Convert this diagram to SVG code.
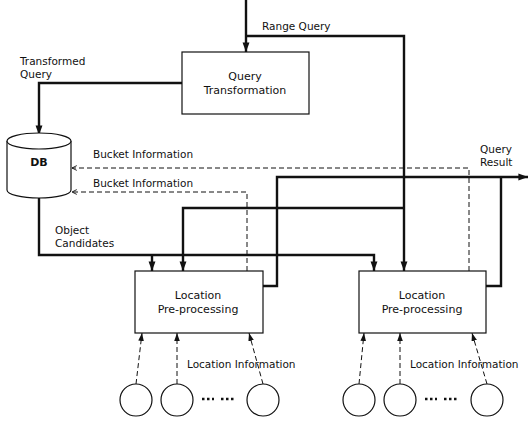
<svg xmlns="http://www.w3.org/2000/svg" width="528" height="421" viewBox="0 0 528 421">
<style>
text{font-family:"DejaVu Sans","Liberation Sans",sans-serif;font-size:10.5px;fill:#111}
.c{text-anchor:middle}
.b{font-size:11px}
.box{fill:#fff;stroke:#111;stroke-width:1.2}
.thick{fill:none;stroke:#111;stroke-width:2.4}
.dash{fill:none;stroke:#111;stroke-width:1;stroke-dasharray:5 3}
.dot{fill:none;stroke:#111;stroke-width:2.5;stroke-dasharray:2.5 2.5}
</style>
<defs>
<marker id="ah" viewBox="0 0 10 10" refX="10" refY="5" markerWidth="4" markerHeight="4" orient="auto" markerUnits="strokeWidth"><path d="M0,1.4 L10,5 L0,8.6 z" fill="#111"/></marker>
<marker id="ahs" viewBox="0 0 10 10" refX="10" refY="5" markerWidth="8" markerHeight="8" orient="auto" markerUnits="strokeWidth"><path d="M0,1.5 L10,5 L0,8.5 z" fill="#111"/></marker>
<marker id="ao" viewBox="0 0 10 10" refX="10" refY="5" markerWidth="6" markerHeight="6" orient="auto" markerUnits="strokeWidth"><path d="M2,1 L10,5 L2,9" fill="none" stroke="#111" stroke-width="1.5"/></marker>
</defs>
<g id="connectors">
<path class="thick" d="M246,0 V52" marker-end="url(#ah)"/>
<path class="thick" d="M246,36 H404 V271" marker-end="url(#ah)"/>
<path class="thick" d="M182,83 H39 V135" marker-end="url(#ah)"/>
<path class="thick" d="M39,198 V255 H374 V271" marker-end="url(#ah)"/>
<path class="thick" d="M152,255 V271" marker-end="url(#ah)"/>
<path class="thick" d="M404,208 H183 V271" marker-end="url(#ah)"/>
<path class="thick" d="M263,286 H277 V177 H528" marker-end="url(#ah)"/>
<path class="thick" d="M486,286 H501 V177"/>
<path class="dash" d="M469,271 V168 H72" marker-end="url(#ao)"/>
<path class="dash" d="M247,271 V192 H72" marker-end="url(#ao)"/>
<path class="dash" d="M136,384 L142,333" marker-end="url(#ahs)"/>
<path class="dash" d="M177,384 L177,333" marker-end="url(#ahs)"/>
<path class="dash" d="M263,384 L249,333" marker-end="url(#ahs)"/>
<path class="dash" d="M359,384 L364,333" marker-end="url(#ahs)"/>
<path class="dash" d="M400,384 L400,333" marker-end="url(#ahs)"/>
<path class="dash" d="M487,384 L472,333" marker-end="url(#ahs)"/>
</g>
<g id="labels">
<text x="262" y="30">Range Query</text>
<text x="20" y="65">Transformed</text>
<text x="20" y="78">Query</text>
<text x="93" y="158">Bucket Information</text>
<text x="93" y="187">Bucket Information</text>
<text x="55" y="234">Object</text>
<text x="55" y="247">Candidates</text>
<text x="480" y="153">Query</text>
<text x="480" y="166">Result</text>
<text x="187" y="368">Location Information</text>
<text x="410" y="368">Location Information</text>
</g>
<g id="query-transformation">
<rect class="box" x="182" y="52" width="127" height="62"/>
<text class="c b" x="245" y="80">Query</text>
<text class="c b" x="245" y="94">Transformation</text>
</g>
<g id="db">
<path class="box" d="M7,141 V190 A32,8 0 0 0 71,190 V141"/>
<ellipse class="box" cx="39" cy="141" rx="32" ry="8"/>
<text class="c b" x="39" y="166" font-weight="bold">DB</text>
</g>
<g id="location-preprocessing-1">
<rect class="box" x="135" y="271" width="128" height="62"/>
<text class="c b" x="198" y="299">Location</text>
<text class="c b" x="198" y="313">Pre-processing</text>
</g>
<g id="location-preprocessing-2">
<rect class="box" x="359" y="271" width="127" height="62"/>
<text class="c b" x="422" y="299">Location</text>
<text class="c b" x="422" y="313">Pre-processing</text>
</g>
<g id="sources-1">
<circle class="box" cx="136" cy="400" r="16"/>
<circle class="box" cx="177" cy="400" r="16"/>
<circle class="box" cx="263" cy="400" r="16"/>
<path class="dot" d="M202,399 H214 M221,399 H234"/>
</g>
<g id="sources-2">
<circle class="box" cx="359" cy="400" r="16"/>
<circle class="box" cx="400" cy="400" r="16"/>
<circle class="box" cx="487" cy="400" r="16"/>
<path class="dot" d="M425,399 H437 M444,399 H457"/>
</g>
</svg>
